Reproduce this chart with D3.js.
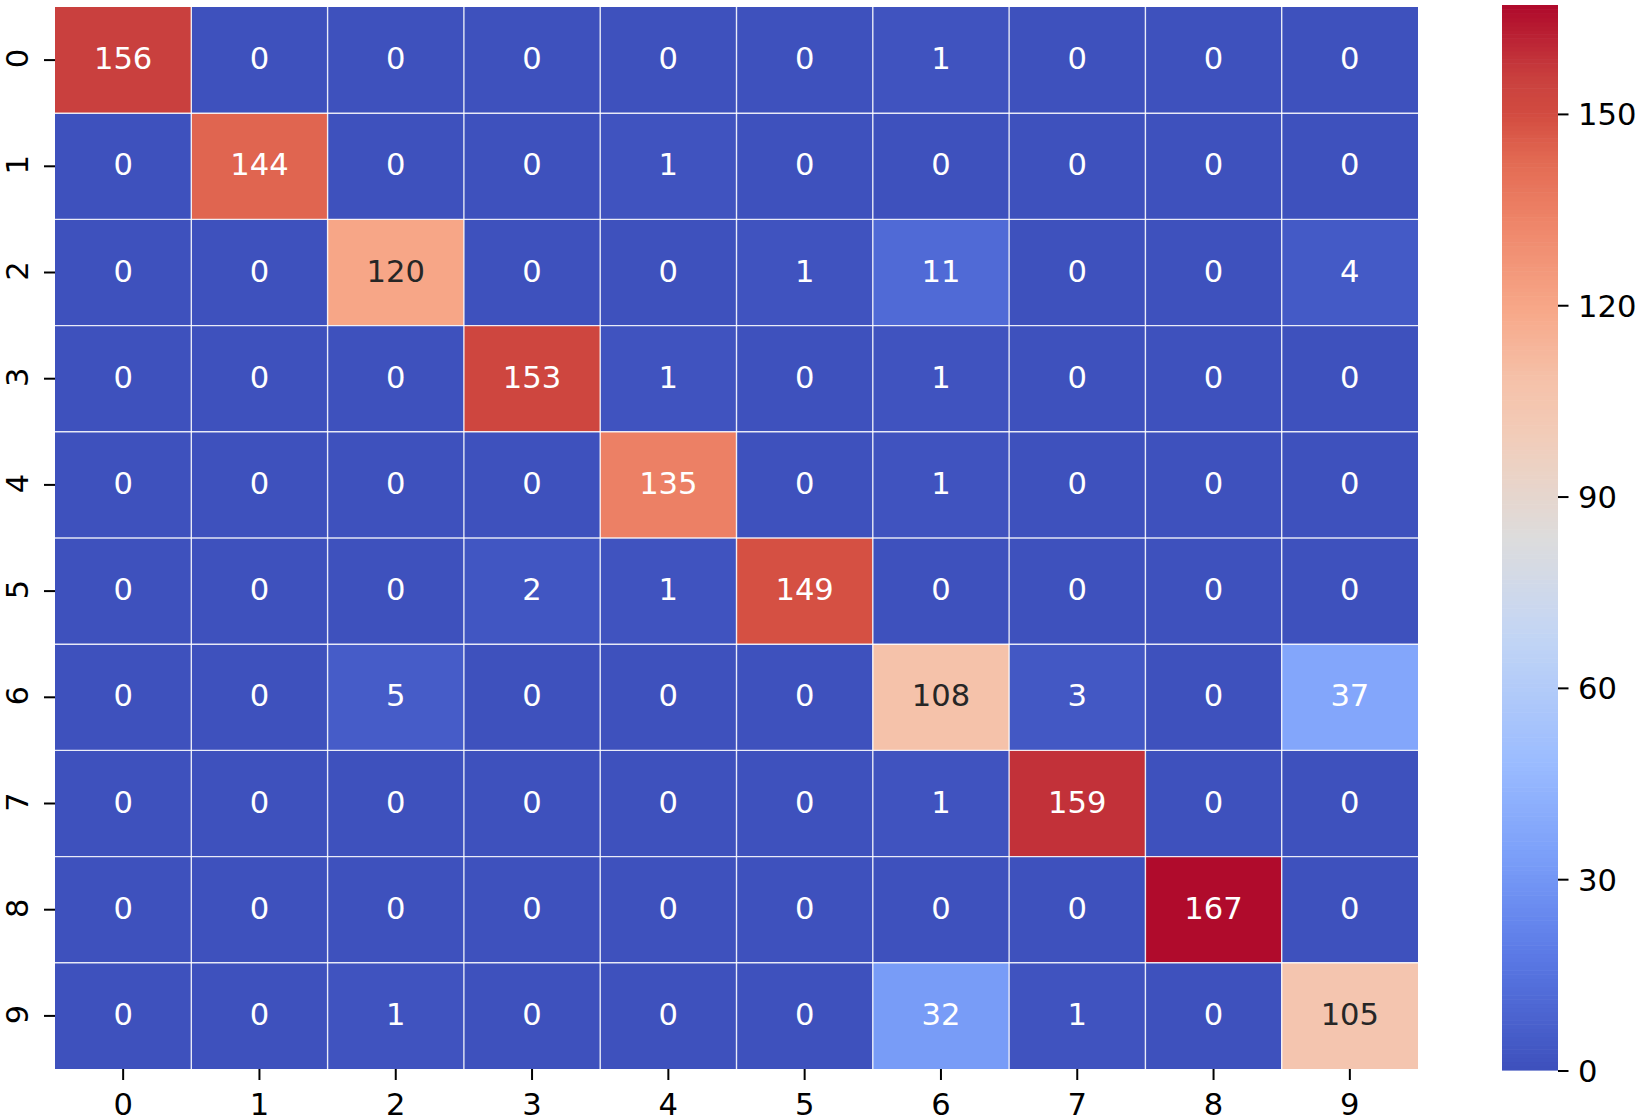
<!DOCTYPE html>
<html><head><meta charset="utf-8">
<script src="https://cdn.jsdelivr.net/npm/d3@7"></script>
<style>html,body{margin:0;padding:0;background:#fff}svg{display:block}text{font-family:"DejaVu Sans",sans-serif}</style>
</head><body><svg id="c" width="1640" height="1119"></svg>
<script>
const labels = ["0","1","2","3","4","5","6","7","8","9"];
const row0 = [156,0,0,0,0,0,1,0,0,0];
const row1 = [0,144,0,0,1,0,0,0,0,0];
const row2 = [0,0,120,0,0,1,11,0,0,4];
const row3 = [0,0,0,153,1,0,1,0,0,0];
const row4 = [0,0,0,0,135,0,1,0,0,0];
const row5 = [0,0,0,2,1,149,0,0,0,0];
const row6 = [0,0,5,0,0,0,108,3,0,37];
const row7 = [0,0,0,0,0,0,1,159,0,0];
const row8 = [0,0,0,0,0,0,0,0,167,0];
const row9 = [0,0,1,0,0,0,32,1,0,105];
const rows = [row0,row1,row2,row3,row4,row5,row6,row7,row8,row9];
const colorbarTicks = [0,30,60,90,120,150];
const vmin = 0, vmax = 167;
const cmapPos = [0,.1,1/7,.2,2/7,.4,3/7,.5,4/7,.6,.647,5/7,.8,6/7,.9,.934,1];
const cmapCol = ["#3e51bd","#5977e3","#6788ee","#7b9ff9","#9abbff","#c0d4f5","#c9d7f0","#dddcdc","#edd1c2","#f2cbb7","#f5c2aa","#f7a889","#ee8468","#e26952","#d24b40","#c9403e","#b00b2c"];

const FS = 30.6, W = 2;
const svg = d3.select("#c");
const x = d3.scaleBand().domain(labels).range([55,1418]);
const y = d3.scaleBand().domain(labels).range([7,1069]);
const color = d3.scaleLinear().domain(cmapPos.map(p=>vmin+(vmax-vmin)*p)).range(cmapCol).interpolate(d3.interpolateRgb);
const cells = rows.flatMap((r,i)=>r.map((v,j)=>({r:labels[i],c:labels[j],v})));
const lum = s=>{const c=d3.rgb(s);const f=u=>{u/=255;return u<=.03928?u/12.92:Math.pow((u+.055)/1.055,2.4)};return .2126*f(c.r)+.7152*f(c.g)+.0722*f(c.b)};

svg.append("g").selectAll("rect").data(cells).join("rect")
  .attr("x",d=>x(d.c)).attr("y",d=>y(d.r)).attr("width",x.bandwidth()).attr("height",y.bandwidth())
  .attr("fill",d=>color(d.v));
const sep = svg.append("g").attr("stroke","#fff").attr("stroke-width",1.4).attr("stroke-opacity",.85);
labels.slice(1).forEach(l=>{
  sep.append("line").attr("x1",x(l)).attr("x2",x(l)).attr("y1",7).attr("y2",1069);
  sep.append("line").attr("y1",y(l)).attr("y2",y(l)).attr("x1",55).attr("x2",1418);
});
svg.append("g").selectAll("text").data(cells).join("text")
  .attr("x",d=>x(d.c)+x.bandwidth()/2).attr("y",d=>y(d.r)+y.bandwidth()/2)
  .attr("dy",FS*0.30).attr("text-anchor","middle").attr("font-size",FS)
  .attr("fill",d=>lum(color(d.v))>.408?"#262626":"#fff").text(d=>d.v);

function style(g){
  g.select(".domain").remove();
  g.selectAll(".tick line").attr("stroke","#000").attr("stroke-width",W);
  g.selectAll(".tick text").attr("fill","#000").attr("font-size",FS).attr("font-family",'"DejaVu Sans",sans-serif');
}
const ax = svg.append("g").attr("transform","translate(0,1069)").call(d3.axisBottom(x).tickSize(11).tickPadding(13));
style(ax);
const ay = svg.append("g").attr("transform","translate(55,0)").call(d3.axisLeft(y).tickSize(11).tickPadding(0));
style(ay);
ay.selectAll(".tick text").attr("transform","rotate(-90)").attr("x",1.5).attr("y",-27).attr("dy",0).attr("text-anchor","middle");

const cy = d3.scaleLinear().domain([vmin,vmax]).range([1070,5]);
const N = 256, vals = d3.range(N).map(i=>vmin+(vmax-vmin)*i/(N-1));
svg.append("g").selectAll("rect").data(vals).join("rect")
  .attr("x",1502).attr("width",56)
  .attr("y",(d,i)=>cy(vmin+(vmax-vmin)*(i+1)/N)).attr("height",(cy(0)-cy(vmax))/N+.6)
  .attr("fill",d=>color(d));
const ac = svg.append("g").attr("transform","translate(1558,0.5)").call(d3.axisRight(cy).tickValues(colorbarTicks).tickSize(10.5).tickPadding(9.5));
style(ac);
ac.selectAll(".tick text").attr("dy",11);
</script></body></html>
